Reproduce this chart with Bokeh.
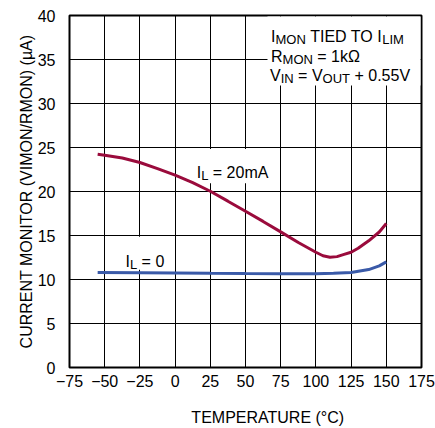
from bokeh.plotting import figure
from bokeh.models import Range1d, FixedTicker, Label
from bokeh.layouts import column
from bokeh.embed import file_html
from bokeh.resources import INLINE

# ---- data ----
x_ticks = [-75, -50, -25, 0, 25, 50, 75, 100, 125, 150, 175]
x_tick_labels = ["\u221275", "\u221250", "\u221225", "0", "25", "50", "75", "100", "125", "150", "175"]
y_ticks = [0, 5, 10, 15, 20, 25, 30, 35, 40]

temp_20mA = [-55, -50, -37.5, -25, -12.5, 0, 12.5, 25, 37.5, 50, 62.5, 75, 87.5, 100, 105, 110, 115, 120, 125, 130, 137.5, 145, 150]
imon_20mA = [24.24, 24.13, 23.8, 23.3, 22.6, 21.85, 21.0, 20.03, 18.9, 17.76, 16.6, 15.41, 14.2, 13.1, 12.7, 12.53, 12.6, 12.85, 13.1, 13.55, 14.4, 15.4, 16.36]

temp_0 = [-55, -25, 0, 25, 50, 75, 90, 100, 112.5, 125, 137.5, 145, 150]
imon_0 = [10.8, 10.77, 10.74, 10.7, 10.67, 10.65, 10.64, 10.65, 10.7, 10.8, 11.13, 11.55, 12.0]

x_title = "TEMPERATURE (\u00b0C)"
y_title = "CURRENT MONITOR (VIMON/RMON) (\u00b5A)"

RED = "#9a0b3c"
BLUE = "#3a5aa8"
FONT = "Liberation Sans"
MAIN = 16.0
SUB = 13.0

# ---- main plot (page x 0..435, y 0..405); frame at page x 69..421, y 15..367 ----
p = figure(width=435, height=405, output_backend="svg", toolbar_location=None,
           x_range=Range1d(-75, 175), y_range=Range1d(0, 40),
           min_border_left=69, min_border_right=14, min_border_top=15, min_border_bottom=38)
p.outline_line_color = "black"
p.outline_line_width = 2

p.xaxis.ticker = FixedTicker(ticks=x_ticks)
p.xaxis.major_label_overrides = {t: s for t, s in zip(x_ticks, x_tick_labels)}
p.yaxis.ticker = FixedTicker(ticks=y_ticks)
for ax in (p.xaxis, p.yaxis):
    ax.axis_line_color = None
    ax.major_tick_line_color = None
    ax.minor_tick_line_color = None
    ax.major_tick_out = 0
    ax.major_tick_in = 0
    ax.major_label_text_font = FONT
    ax.major_label_text_font_size = "16px"
    ax.major_label_text_color = "black"
p.xaxis.major_label_standoff = 7
p.yaxis.major_label_standoff = 14

p.yaxis.axis_label = y_title
p.yaxis.axis_label_text_font = FONT
p.yaxis.axis_label_text_font_size = "16px"
p.yaxis.axis_label_text_font_style = "normal"
p.yaxis.axis_label_text_color = "black"
p.yaxis.axis_label_standoff = 0

p.grid.grid_line_color = "black"
p.grid.grid_line_alpha = 1

# Arial/Liberation Sans advance widths (per 1000 em)
W = {" ": 278, "(": 333, ")": 333, "+": 584, ".": 278, "/": 278, "=": 584,
     "0": 556, "1": 556, "2": 556, "5": 556, "A": 667, "C": 722, "D": 722, "E": 667,
     "I": 278, "L": 556, "M": 833, "N": 722, "O": 778, "P": 667, "R": 722, "T": 611,
     "U": 722, "V": 667, "k": 500, "m": 833, "\u00b5": 576, "\u00b0": 400, "\u03a9": 768}


def tw(s, size):
    return sum(W.get(c, 556) for c in s) / 1000.0 * size


def put(fig, conv, text, px, py, size, align="left"):
    x, y = conv(px, py)
    fig.add_layout(Label(x=x, y=y, text=text, text_font=FONT, text_font_size=f"{size}px",
                         text_color="black", text_baseline="alphabetic", text_align=align))


def chain(fig, conv, pieces, px, py, shift=3.0):
    for s, sub in pieces:
        size = SUB if sub else MAIN
        lead = len(s) - len(s.lstrip(" "))
        px += tw(" " * lead, size)
        s = s.lstrip(" ")
        put(fig, conv, s, px, py + (shift if sub else 0), size)
        px += tw(s, size)


# page-pixel -> data for the main plot (x -75 at page px 69, 35.2px per 25; y 0 at page px 367, 8.8px per unit)
def main_conv(px, py):
    return -75 + (px - 69) / 1.408, (367 - py) / 8.8


# white boxes behind labels (cover grid, below curves)
boxes = [main_conv(267, 16) + main_conv(420, 85), main_conv(186, 148.5) + main_conv(278, 182.7),
         main_conv(108, 236.3) + main_conv(172, 269.3)]
p.quad(left=[b[0] for b in boxes], right=[b[2] for b in boxes], top=[b[1] for b in boxes],
       bottom=[b[3] for b in boxes], fill_color="white", line_color=None)

p.line(temp_20mA, imon_20mA, line_color=RED, line_width=3)
p.line(temp_0, imon_0, line_color=BLUE, line_width=3)

# top-right note
chain(p, main_conv, [("I", 0), ("MON", 1), (" TIED TO I", 0), ("LIM", 1)], 270.5, 36.3)
chain(p, main_conv, [("R", 0), ("MON", 1), (" = 1k\u03a9", 0)], 270.5, 55.5)
chain(p, main_conv, [("V", 0), ("IN", 1), (" = V", 0), ("OUT", 1), (" + 0.55V", 0)], 269.5, 74.7)

# curve labels
chain(p, main_conv, [("I", 0), ("L", 1), (" = 20mA", 0)], 196.2, 172.3)
chain(p, main_conv, [("I", 0), ("L", 1), (" = 0", 0)], 125.0, 260.7)

# ---- x title strip (page x 0..435, y 405..428) ----
xfig = figure(width=435, height=23, output_backend="svg", toolbar_location=None, title=None,
              x_range=Range1d(0, 435), y_range=Range1d(0, 23), x_axis_type=None, y_axis_type=None,
              min_border=0, min_border_left=0, min_border_right=0, min_border_top=0, min_border_bottom=0)
xfig.outline_line_color = None
xfig.grid.visible = False


def x_conv(px, py):
    return px, 23 - (py - 405)


put(xfig, x_conv, x_title, 245, 417.3, MAIN, align="center")

layout = column(p, xfig, spacing=0)
open("out.html", "w").write(file_html(layout, INLINE))
